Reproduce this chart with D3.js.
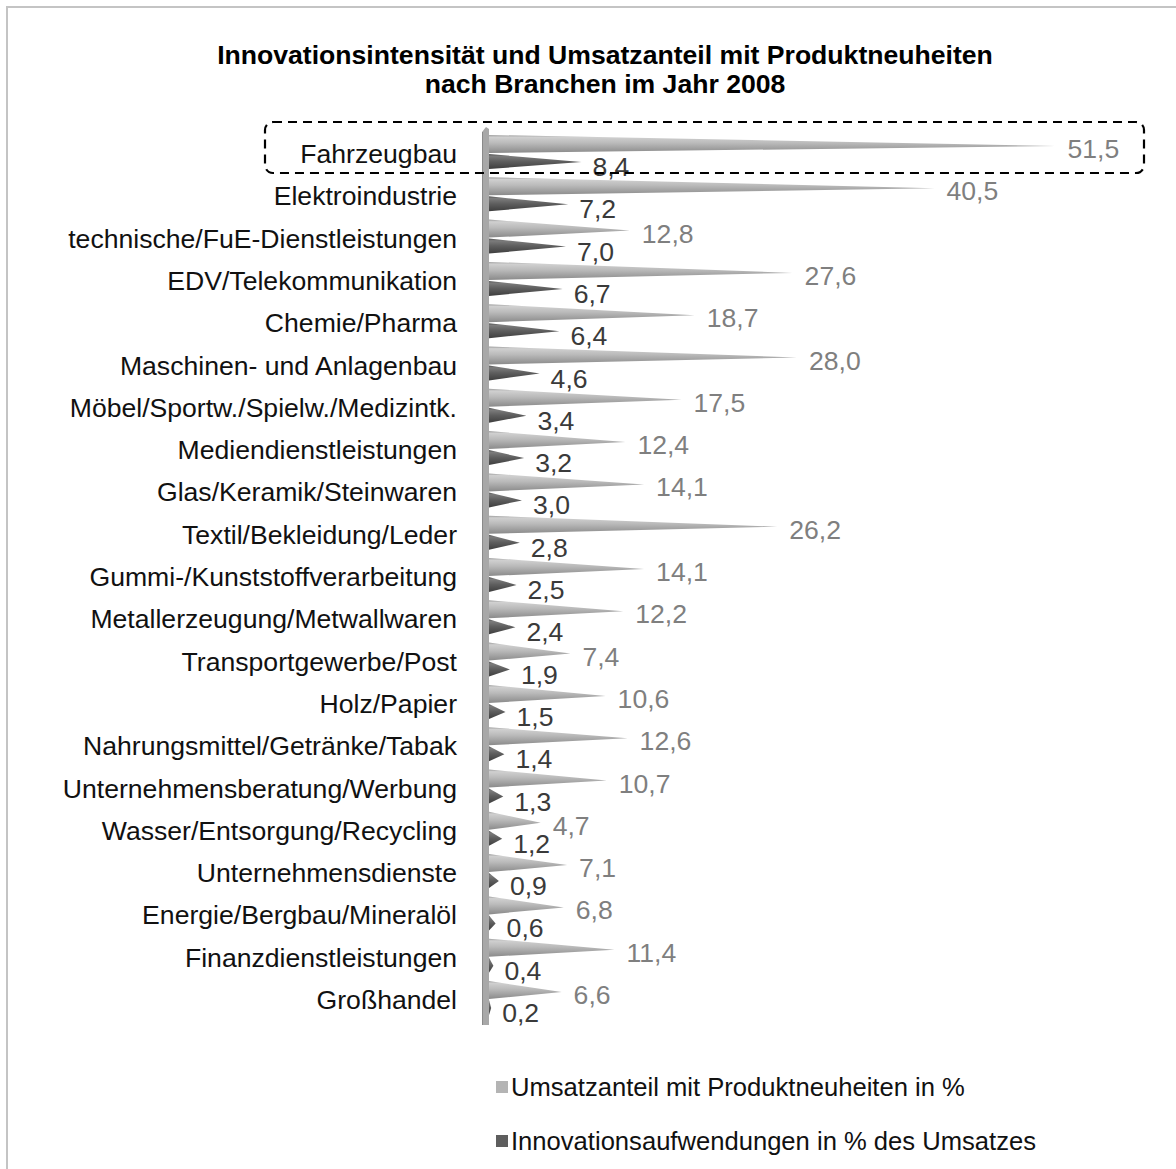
<!DOCTYPE html>
<html><head><meta charset="utf-8">
<script src="https://cdn.jsdelivr.net/npm/d3@7"></script>
<style>body{margin:0;background:#fff}svg{display:block;font-family:"Liberation Sans",Arial,sans-serif}</style>
</head><body>
<script>
const categories = ["Fahrzeugbau","Elektroindustrie","technische/FuE-Dienstleistungen","EDV/Telekommunikation","Chemie/Pharma","Maschinen- und Anlagenbau","Möbel/Sportw./Spielw./Medizintk.","Mediendienstleistungen","Glas/Keramik/Steinwaren","Textil/Bekleidung/Leder","Gummi-/Kunststoffverarbeitung","Metallerzeugung/Metwallwaren","Transportgewerbe/Post","Holz/Papier","Nahrungsmittel/Getränke/Tabak","Unternehmensberatung/Werbung","Wasser/Entsorgung/Recycling","Unternehmensdienste","Energie/Bergbau/Mineralöl","Finanzdienstleistungen","Großhandel"];
const umsatzanteil = [51.5,40.5,12.8,27.6,18.7,28.0,17.5,12.4,14.1,26.2,14.1,12.2,7.4,10.6,12.6,10.7,4.7,7.1,6.8,11.4,6.6];
const innovationsaufwand = [8.4,7.2,7.0,6.7,6.4,4.6,3.4,3.2,3.0,2.8,2.5,2.4,1.9,1.5,1.4,1.3,1.2,0.9,0.6,0.4,0.2];
const seriesNames = ["Umsatzanteil mit Produktneuheiten in %","Innovationsaufwendungen in % des Umsatzes"];
const titleLines = ["Innovationsintensität und Umsatzanteil mit Produktneuheiten","nach Branchen im Jahr 2008"];

const W=1176,H=1169;
const svg=d3.select("body").append("svg").attr("width",W).attr("height",H);
const fmt=v=>d3.format(".1f")(v).replace(".",",");

// frame
svg.append("rect").attr("x",7).attr("y",7).attr("width",W+10).attr("height",H+10)
  .attr("fill","#fff").attr("stroke","#c4c4c4").attr("stroke-width",2);

// title
svg.append("g").selectAll("text").data(titleLines).join("text")
  .attr("x",605).attr("y",(d,i)=>64+i*29).attr("text-anchor","middle")
  .attr("font-weight","bold").attr("font-size",26.6).attr("fill","#000").text(d=>d);

const x=d3.scaleLinear().domain([0,55]).range([489,489+55*11]);
const y=d3.scaleBand().domain(categories).range([154-21.15,154+20*42.3+21.15]).padding(0);
const cy=c=>y(c)+y.bandwidth()/2;

const defs=svg.append("defs");
const gl=defs.append("linearGradient").attr("id","gLight").attr("x1",0).attr("y1",0).attr("x2",0).attr("y2",1);
[[0,"#9c9c9c"],[0.12,"#d0d0d0"],[0.45,"#bababa"],[1,"#8a8a8a"]].forEach(s=>gl.append("stop").attr("offset",s[0]).attr("stop-color",s[1]));
const gd=defs.append("linearGradient").attr("id","gDark").attr("x1",0).attr("y1",0).attr("x2",0).attr("y2",1);
[[0,"#555"],[0.15,"#7c7c7c"],[0.5,"#5e5e5e"],[1,"#3e3e3e"]].forEach(s=>gd.append("stop").attr("offset",s[0]).attr("stop-color",s[1]));

// wall
svg.append("path").attr("d","M482,1025 L482,132 L486,127 L489,129 L489,1025 Z").attr("fill","#a8a8a8");
svg.append("line").attr("x1",482.5).attr("x2",482.5).attr("y1",132).attr("y2",1025).attr("stroke","#8a8a8a").attr("stroke-width",1);

// cones
const cone=(x0,top,bot,tip,mid)=>`M${x0},${top} L${tip},${mid} L${x0},${bot} Z`;
svg.append("g").selectAll("path").data(categories).join("path")
  .attr("d",(c,i)=>{const m=cy(c);return cone(x(0),m-19,m-1,x(umsatzanteil[i]),m-8);})
  .attr("fill","url(#gLight)");
svg.append("g").selectAll("path").data(categories).join("path")
  .attr("d",(c,i)=>{const m=cy(c);return cone(x(0),m,m+15,x(innovationsaufwand[i]),m+8);})
  .attr("fill","url(#gDark)");

// category labels
svg.append("g").selectAll("text").data(categories).join("text")
  .attr("x",457).attr("y",c=>cy(c)+9).attr("text-anchor","end")
  .attr("font-size",26.6).attr("fill","#111").text(d=>d);

// value labels
svg.append("g").selectAll("text").data(categories).join("text")
  .attr("x",(c,i)=>x(umsatzanteil[i])+12).attr("y",c=>cy(c)+4)
  .attr("font-size",26.6).attr("fill","#7f7f7f").text((c,i)=>fmt(umsatzanteil[i]));
svg.append("g").selectAll("text").data(categories).join("text")
  .attr("x",(c,i)=>x(innovationsaufwand[i])+11).attr("y",c=>cy(c)+22)
  .attr("font-size",26.6).attr("fill","#3a3a3a").text((c,i)=>fmt(innovationsaufwand[i]));

// highlight box
svg.append("rect").attr("x",265).attr("y",122).attr("width",879).attr("height",51).attr("rx",8)
  .attr("fill","none").attr("stroke","#000").attr("stroke-width",2.2).attr("stroke-dasharray","9,6");

// legend
const lg=svg.append("g").selectAll("g").data(seriesNames).join("g")
  .attr("transform",(d,i)=>`translate(496,${1087+i*54})`);
lg.append("rect").attr("x",0).attr("y",-6).attr("width",12).attr("height",12)
  .attr("fill",(d,i)=>i===0?"#b4b4b4":"#5e5e5e");
lg.append("text").attr("x",15).attr("y",9).attr("font-size",25.6).attr("fill","#111").text(d=>d);
</script>
</body></html>
